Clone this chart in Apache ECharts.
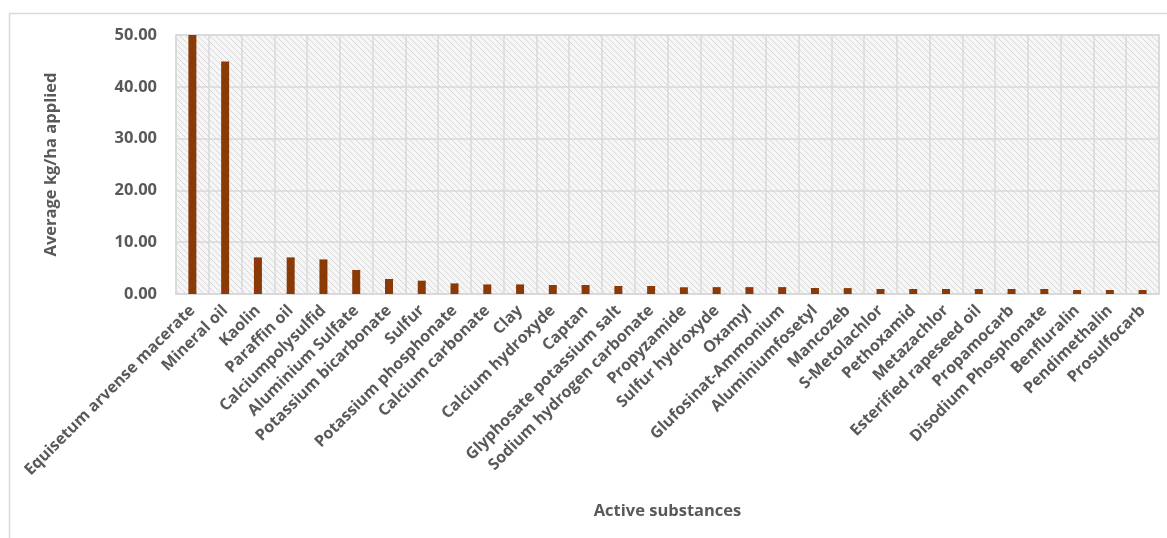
<!DOCTYPE html>
<html>
<head>
<meta charset="utf-8">
<script src="https://cdn.jsdelivr.net/npm/echarts@6/dist/echarts.min.js"></script>
<style>
html,body{margin:0;padding:0;background:#fff;}
#chart{width:1167px;height:538px;}
</style>
</head>
<body>
<div id="chart"></div>
<script>
const categories = [
  "Equisetum arvense macerate","Mineral oil","Kaolin","Paraffin oil","Calciumpolysulfid",
  "Aluminium Sulfate","Potassium bicarbonate","Sulfur","Potassium phosphonate","Calcium carbonate",
  "Clay","Calcium hydroxyde","Captan","Glyphosate potassium salt","Sodium hydrogen carbonate",
  "Propyzamide","Sulfur hydroxyde","Oxamyl","Glufosinat-Ammonium","Aluminiumfosetyl",
  "Mancozeb","S-Metolachlor","Pethoxamid","Metazachlor","Esterified rapeseed oil",
  "Propamocarb","Disodium Phosphonate","Benfluralin","Pendimethalin","Prosulfocarb"
];
const avgKgHa = [
  50.0, 44.9, 7.07, 7.07, 6.68,
  4.63, 2.9, 2.57, 2.05, 1.85,
  1.85, 1.74, 1.74, 1.54, 1.54,
  1.3, 1.33, 1.33, 1.33, 1.16,
  1.14, 0.97, 0.97, 0.97, 0.97,
  0.97, 0.97, 0.77, 0.77, 0.77
];
const yTicks = { min: 0, max: 50, interval: 10 };

// hatch pattern for plot background
const pc = document.createElement('canvas');
pc.width = 6; pc.height = 6;
const g = pc.getContext('2d');
g.fillStyle = '#f6f6f6';
g.fillRect(0,0,6,6);
g.strokeStyle = '#d8d8d8';
g.lineWidth = 1;
g.beginPath();
g.moveTo(-1,-1); g.lineTo(7,7);
g.moveTo(-7,-1); g.lineTo(1,7);
g.moveTo(5,-1); g.lineTo(13,7);
g.stroke();

const font = '"Open Sans", "Liberation Sans", sans-serif';
const chart = echarts.init(document.getElementById('chart'));
chart.setOption({
  animation: false,
  backgroundColor: '#fff',
  graphic: [{
    type: 'rect', shape: { x: 9.5, y: 13.5, width: 1170, height: 540 },
    style: { fill: 'none', stroke: '#d9d9d9', lineWidth: 1.5 }, silent: true, z: -1
  }],
  grid: {
    left: 176, right: 8, top: 35, bottom: 244,
    show: true,
    backgroundColor: { image: pc, repeat: 'repeat' },
    borderColor: '#d9d9d9', borderWidth: 1.5
  },
  xAxis: {
    type: 'category',
    data: categories,
    name: 'Active substances',
    nameLocation: 'middle',
    nameGap: 209,
    nameTextStyle: { fontFamily: font, fontWeight: 'bold', fontSize: 16.5, color: '#595959' },
    axisLine: { show: true, lineStyle: { color: '#d9d9d9', width: 1.5 } },
    axisTick: { show: false },
    axisLabel: {
      interval: 0, rotate: 45, margin: 14,
      fontFamily: font, fontWeight: 'bold', fontSize: 16, color: '#595959'
    },
    splitLine: { show: true, interval: 0, lineStyle: { color: '#d9d9d9', width: 1.5 } }
  },
  yAxis: {
    type: 'value',
    min: yTicks.min, max: yTicks.max, interval: yTicks.interval,
    name: 'Average kg/ha applied',
    nameLocation: 'middle',
    nameGap: 116,
    nameTextStyle: { fontFamily: font, fontWeight: 'bold', fontSize: 16.5, color: '#595959' },
    axisLine: { show: false },
    axisTick: { show: false },
    axisLabel: {
      margin: 19,
      formatter: v => v.toFixed(2),
      fontFamily: font, fontWeight: 'bold', fontSize: 16.5, color: '#595959'
    },
    splitLine: { show: true, lineStyle: { color: '#d9d9d9', width: 1.5 } }
  },
  series: [{
    type: 'bar',
    data: avgKgHa,
    barWidth: 8,
    itemStyle: { color: '#8a3a06' }
  }]
});
</script>
</body>
</html>
